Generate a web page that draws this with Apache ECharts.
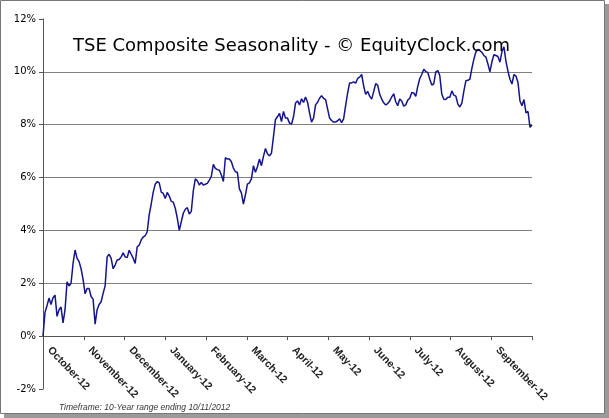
<!DOCTYPE html>
<html><head><meta charset="utf-8">
<script src="https://cdn.jsdelivr.net/npm/echarts@6/dist/echarts.min.js"></script>
<style>html,body{margin:0;padding:0;background:#fff}#c{width:609px;height:418px}</style>
</head><body><div id="c"></div>
<script>
const chartTitle = 'TSE Composite Seasonality - \u00A9 EquityClock.com';
const footnote = 'Timeframe: 10-Year range ending 10/11/2012';
const monthLabels = ['October-12','November-12','December-12','January-12','February-12','March-12','April-12','May-12','June-12','July-12','August-12','September-12'];
const yMin = -2, yMax = 12, yStep = 2;
// average cumulative return (%) per trading day
const seasonality = [
0.0,0.9,1.15,1.44,1.2,1.45,1.55,0.75,1.0,1.1,0.5,1.0,2.06,1.9,2.0,2.75,3.26,2.94,2.82,2.55,
2.15,1.6,1.8,1.8,1.5,1.4,0.45,1.0,1.2,1.3,1.62,1.9,3.0,3.1,2.94,2.55,2.69,2.88,2.9,3.0,
3.15,3.0,2.97,3.25,3.1,2.95,2.75,3.38,3.44,3.64,3.75,3.8,3.95,4.6,5.0,5.45,5.75,5.85,5.8,5.45,
5.4,5.21,5.44,5.3,5.1,5.07,4.84,4.47,4.0,4.33,4.65,4.8,4.86,4.62,4.72,5.5,5.95,5.88,5.72,5.82,
5.72,5.75,5.78,5.9,6.05,6.5,6.35,6.3,6.28,6.1,5.85,6.75,6.7,6.7,6.6,6.36,6.22,6.2,5.57,5.42,
5.0,5.34,5.75,5.8,5.95,6.45,6.2,6.41,6.7,6.45,6.8,7.1,6.9,6.82,6.92,7.55,8.2,8.3,8.43,8.12,
8.5,8.25,8.25,8.06,8.02,8.3,8.82,8.9,8.75,8.98,8.84,9.05,8.85,8.45,8.1,8.25,8.75,8.85,9.0,9.1,
9.0,8.95,8.6,8.25,8.16,8.1,8.1,8.15,8.22,8.08,8.22,8.72,9.2,9.58,9.58,9.62,9.57,9.75,9.8,9.9,
9.47,9.15,9.26,9.08,8.97,9.25,9.55,9.5,9.15,8.97,8.83,8.75,8.8,8.9,9.05,9.17,8.87,8.72,8.97,8.9,
8.7,8.75,8.93,9.0,9.22,9.2,9.07,9.45,9.75,9.9,10.1,10.01,9.98,9.72,9.5,9.55,10.0,10.05,9.85,9.15,
8.96,8.95,9.04,9.04,9.28,9.12,9.08,8.78,8.67,8.82,9.27,9.66,9.68,9.72,10.13,10.48,10.75,10.85,10.8,10.74,
10.62,10.56,10.3,10.0,10.38,10.65,10.62,10.58,10.37,10.76,10.95,10.4,10.03,9.72,9.54,9.9,9.84,9.6,8.9,8.72,
8.95,8.45,8.5,7.9,7.99
];
const dayIndex = seasonality.map((_, i) => i + 1);

const chart = echarts.init(document.getElementById('c'), null, {renderer: 'canvas'});
chart.setOption({
  animation: false,
  backgroundColor: '#fff',
  title: {
    text: chartTitle, left: 68, top: 32,
    textStyle: {fontFamily: 'DejaVu Sans', fontSize: 18, fontWeight: 'normal', color: '#000'}
  },
  grid: {left: 43, right: 77, top: 19, bottom: 29, containLabel: false, outerBoundsMode: 'none'},
  xAxis: [
    {type: 'category', data: dayIndex, boundaryGap: false, show: false, position: 'top', axisLine: {onZero: false}},
    {type: 'value', position: 'bottom', min: 0, max: monthLabels.length, interval: 1,
     axisLine: {show: true, onZero: false, lineStyle: {color: '#555', width: 1}},
     axisTick: {show: true, length: 4, lineStyle: {color: '#555'}},
     splitLine: {show: false},
     axisLabel: {rotate: -46, margin: 6, padding: [0, 0, 0, 9], fontFamily: 'Liberation Sans', fontSize: 10.5, fontWeight: 'bold', color: '#222',
       formatter: v => monthLabels[v] || ''}}
  ],
  yAxis: {
    type: 'value', min: yMin, max: yMax, interval: yStep,
    axisLine: {show: true, onZero: false, lineStyle: {color: '#555', width: 1}},
    axisTick: {show: true, length: 4, lineStyle: {color: '#555'}},
    splitLine: {show: true, showMinLine: false, showMaxLine: false, lineStyle: {color: '#808080', width: 1}},
    axisLabel: {margin: 7, fontFamily: 'DejaVu Sans', fontSize: 10, color: '#000', formatter: v => v + '%'}
  },
  series: [{
    type: 'line', xAxisIndex: 0, yAxisIndex: 0, data: seasonality,
    showSymbol: false, smooth: false,
    lineStyle: {color: '#14148c', width: 1.5}
  }],
  graphic: [
    {type: 'text', left: 59, top: 403, style: {text: footnote, font: 'italic 8.5px "Liberation Sans"', fill: '#333'}},
    {type: 'rect', shape: {x: 0.5, y: 0.5, width: 604, height: 413}, style: {fill: 'none', stroke: '#777', lineWidth: 1}, silent: true},
    {type: 'rect', shape: {x: 605, y: 4, width: 4, height: 414}, style: {fill: '#9a9a9a'}, silent: true},
    {type: 'rect', shape: {x: 4, y: 414, width: 605, height: 4}, style: {fill: '#9a9a9a'}, silent: true}
  ]
});
// place the month axis on the 0% line, using the y scale of the chart
const zeroY = chart.convertToPixel({yAxisIndex: 0}, 0);
const minY = chart.convertToPixel({yAxisIndex: 0}, yMin);
chart.setOption({xAxis: [{}, {offset: zeroY - minY}]});
</script>
</body></html>
